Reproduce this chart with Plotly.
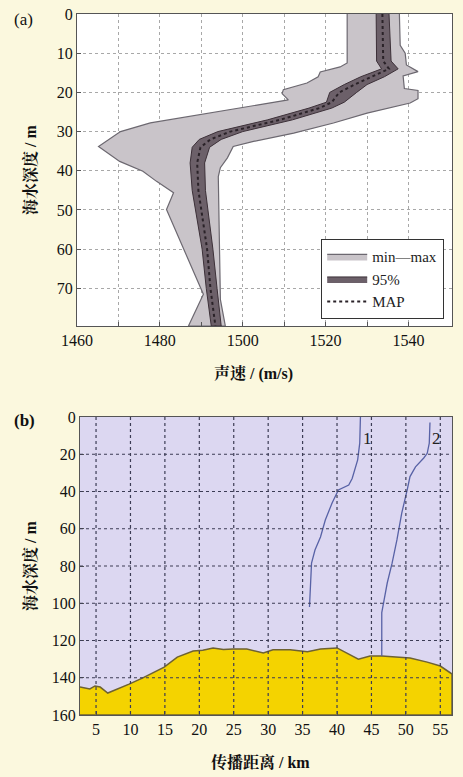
import plotly.graph_objects as go

# ---------------- Panel (a) data: sound speed vs depth ----------------
min_depth = [0, 12.5, 13.5, 14.8, 16, 17.6, 19.3, 20.3, 21.9, 23.5, 25.7, 27.8, 30,
             33.8, 37.6, 40.1, 42.7, 45.6, 49.9, 71.5, 79.6]
min_speed = [1525.2, 1525.2, 1523.5, 1518.7, 1518.2, 1515.5, 1509.8, 1509.5, 1511, 1502,
             1489.8, 1477.7, 1470.5, 1465.2, 1470.3, 1475.9, 1479.2, 1483.3, 1481.6,
             1490.5, 1486.9]
max_depth = [0, 8, 10, 13, 14.7, 15.8, 19, 19.5, 21.6, 22.7, 25.3, 27.8, 30.4, 32.5,
             33.8, 36.7, 39.2, 41.5, 72.8, 79.6]
max_speed = [1537.8, 1538, 1539.2, 1539.5, 1542.3, 1538.7, 1539, 1542.3, 1542.3, 1540.4,
             1530, 1521.9, 1512.3, 1502.6, 1497.7, 1496.3, 1494.6, 1494.1, 1494.6, 1495.8]

band_depth = [0, 12, 14, 16, 18, 20, 22.5, 24, 27, 30, 32, 34, 38, 45, 60, 70, 79.6]
map_speed = [1533.7, 1533.9, 1535.3, 1531, 1527, 1523.3, 1521.5, 1518.5, 1509, 1497,
             1492.2, 1489.8, 1489, 1489.3, 1491.4, 1492.2, 1493.4]
ci_low = [1532.2, 1532.3, 1533.5, 1528.5, 1524.5, 1521, 1520.2, 1516, 1506, 1494,
          1489.5, 1487.8, 1487.3, 1487.8, 1490.2, 1491.2, 1492.4]
ci_high = [1535.3, 1535.8, 1537.5, 1534.2, 1530.0, 1527.5, 1524.5, 1521.5, 1512, 1500,
           1494.8, 1492, 1490.8, 1491, 1492.8, 1493.8, 1494.8]

a_xticks = [1460, 1470, 1480, 1490, 1500, 1510, 1520, 1530, 1540]
a_xlabels = ["1460", "", "1480", "", "1500", "", "1520", "", "1540"]
a_yticks = [0, 10, 20, 30, 40, 50, 60, 70]

# ---------------- Panel (b) data: propagation path ----------------
seabed_km = [2.67, 4.1, 4.85, 5.6, 6.3, 6.7, 9.8, 11.8, 14.9, 16.8, 19.1, 20.5, 22, 23.5,
             24.9, 26.9, 29.3, 30.7, 33.2, 35.7, 37.6, 40, 43.1, 44.8, 46.5, 48.2, 50.6,
             53.1, 55, 56.7]
seabed_depth = [145, 146, 144.4, 145, 147, 148.2, 143.4, 140.1, 134.3, 128.9, 125.6,
                125.2, 124, 124.8, 124.6, 124.6, 126.7, 125, 125, 126, 124.6, 124, 130,
                128.3, 128.3, 128.9, 129.4, 131.6, 133.7, 138]

p1_km = [43.4, 43.3, 43.0, 42.2, 41.7, 40.2, 39.3, 38.3, 37.6, 36.8, 36.3, 36.1, 36.0]
p1_depth = [0, 14, 23, 33, 36.5, 39.2, 46, 55.3, 64.4, 71.4, 78.5, 91.2, 102]
p2_km = [53.5, 53.4, 53.1, 52.6, 51.4, 50.6, 50.2, 49.4, 48.7, 48.0, 47.3, 46.5, 46.5]
p2_depth = [3, 14, 19.5, 22, 26.8, 32, 39, 51.6, 66, 78.5, 89, 105, 128.3]

b_xticks = [5, 10, 15, 20, 25, 30, 35, 40, 45, 50, 55]
b_yticks = [0, 20, 40, 60, 80, 100, 120, 140, 160]
B_YMAX = 160
B_XRANGE = [2.67, 56.7]

SERIF = "Liberation Serif, Times New Roman, serif"
CJK = "Liberation Serif, Noto Serif CJK SC, Noto Sans CJK SC, serif"
PAPER = "#fbf8de"

W, H = 463, 777
ML, MR, MT, MB = 77, 11, 14, 62
PW, PH = W - ML - MR, H - MT - MB


def px(x):
    return (x - ML) / PW


def py(y):
    return (H - MB - y) / PH


fig = go.Figure()

fig.add_trace(go.Scatter(
    x=min_speed + max_speed[::-1], y=min_depth + max_depth[::-1],
    fill="toself", fillcolor="#c9c4c9", mode="lines",
    line=dict(color="#6c6870", width=1.2), name="min\u2014max",
    xaxis="x", yaxis="y"))
fig.add_trace(go.Scatter(
    x=ci_low + ci_high[::-1], y=band_depth + band_depth[::-1],
    fill="toself", fillcolor="#6c6069", mode="lines",
    line=dict(color="#3c3038", width=1), name="95%",
    xaxis="x", yaxis="y"))
fig.add_trace(go.Scatter(
    x=map_speed, y=band_depth, mode="lines",
    line=dict(color="#2a2228", width=2, dash="dot"), name="MAP",
    xaxis="x", yaxis="y"))

fig.add_trace(go.Scatter(
    x=seabed_km + [seabed_km[-1], seabed_km[0]],
    y=seabed_depth + [B_YMAX, B_YMAX],
    fill="toself", fillcolor="#f4d300", mode="lines",
    line=dict(color="#6e6232", width=1.5), showlegend=False,
    xaxis="x2", yaxis="y2"))
fig.add_trace(go.Scatter(x=p1_km, y=p1_depth, mode="lines",
                         line=dict(color="#5862a6", width=1.3), showlegend=False,
                         xaxis="x2", yaxis="y2"))
fig.add_trace(go.Scatter(x=p2_km, y=p2_depth, mode="lines",
                         line=dict(color="#5862a6", width=1.3), showlegend=False,
                         xaxis="x2", yaxis="y2"))

ax_common = dict(showline=True, linecolor="#555555", linewidth=1.2, mirror=True,
                 ticks="inside", ticklen=4, tickcolor="#555555", automargin=False,
                 tickfont=dict(family=SERIF, size=16, color="#111111"), zeroline=False)

shapes = []
for v in b_xticks:
    shapes.append(dict(type="line", xref="x2", yref="y2", x0=v, x1=v, y0=0, y1=B_YMAX,
                       layer="above", line=dict(color="#3c3c55", width=1.2, dash="dot")))
for v in b_yticks[1:-1]:
    shapes.append(dict(type="line", xref="x2", yref="y2", x0=B_XRANGE[0], x1=B_XRANGE[1],
                       y0=v, y1=v, layer="above",
                       line=dict(color="#3c3c55", width=1.2, dash="dot")))
shapes.append(dict(type="rect", xref="x2 domain", yref="y2 domain", x0=0, x1=1,
                   y0=0, y1=1, layer="below", fillcolor="#dcd7f1", line=dict(width=0)))

TXT = dict(color="#111111")
annotations = [
    dict(text="(a)", x=px(23), y=py(20), font=dict(family=SERIF, size=17, **TXT)),
    dict(text="<b>(b)</b>", x=px(24), y=py(420), font=dict(family=SERIF, size=17, **TXT)),
    dict(text="<b>声速 / (m/s)</b>", x=px(253), y=py(373), font=dict(family=CJK, size=16, **TXT)),
    dict(text="<b>传播距离 / km</b>", x=px(260), y=py(762), font=dict(family=CJK, size=16, **TXT)),
    dict(text="<b>海水深度 / m</b>", x=px(30), y=py(170), textangle=-90,
         font=dict(family=CJK, size=16, **TXT)),
    dict(text="<b>海水深度 / m</b>", x=px(30), y=py(566), textangle=-90,
         font=dict(family=CJK, size=16, **TXT)),
]
for a in annotations:
    a.update(xref="paper", yref="paper", showarrow=False,
             xanchor="center", yanchor="middle")
annotations += [
    dict(text="1", x=44.4, y=11.5, xref="x2", yref="y2", showarrow=False,
         xanchor="center", yanchor="middle",
         font=dict(family=SERIF, size=17, color="#222")),
    dict(text="2", x=54.5, y=11.5, xref="x2", yref="y2", showarrow=False,
         xanchor="center", yanchor="middle",
         font=dict(family=SERIF, size=17, color="#222")),
]

fig.update_layout(
    width=W, height=H, margin=dict(l=ML, r=MR, t=MT, b=MB, pad=0, autoexpand=False),
    paper_bgcolor=PAPER, plot_bgcolor="#ffffff",
    xaxis=dict(domain=[0, 1], range=[1460, 1550.5], anchor="y",
               tickvals=a_xticks, ticktext=a_xlabels, showgrid=True,
               gridcolor="#a8a8a8", griddash="dot", gridwidth=1, **ax_common),
    yaxis=dict(domain=[py(326), 1], range=[79.6, 0], anchor="x",
               tickvals=a_yticks, showgrid=True,
               gridcolor="#a8a8a8", griddash="dot", gridwidth=1, **ax_common),
    xaxis2=dict(domain=[px(80), 1], range=B_XRANGE, anchor="y2",
                tickvals=b_xticks, showgrid=False, **ax_common),
    yaxis2=dict(domain=[0, py(417)], range=[B_YMAX, 0], anchor="x2",
                tickvals=b_yticks, showgrid=False, **ax_common),
    shapes=shapes,
    annotations=annotations,
    legend=dict(x=px(444), y=py(319), xanchor="right", yanchor="bottom",
                bgcolor="#ffffff", bordercolor="#333333", borderwidth=1.2,
                font=dict(family=SERIF, size=15, color="#222"),
                tracegroupgap=0, itemwidth=40),
)

fig.write_html(
    "out.html",
    config={"displayModeBar": False},
    post_script=("document.body.style.margin='0';document.body.style.padding='0';"
                 "document.body.style.overflow='hidden';"
                 "document.body.style.background='" + PAPER + "';"),
)
